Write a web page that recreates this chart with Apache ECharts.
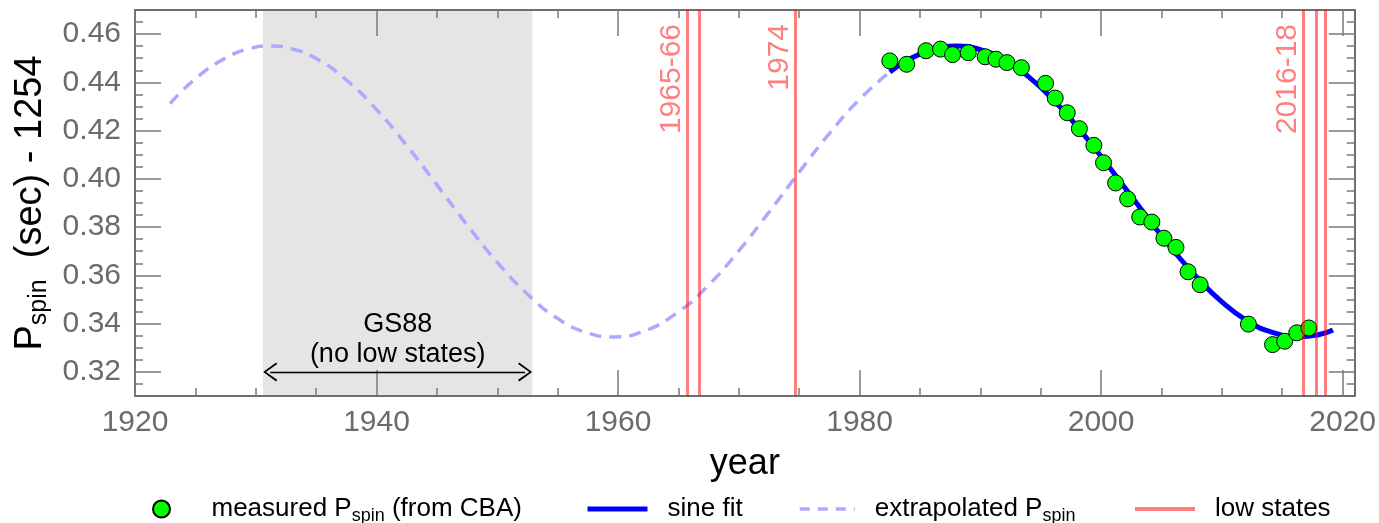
<!DOCTYPE html>
<html>
<head>
<meta charset="utf-8">
<script src="https://cdn.jsdelivr.net/npm/echarts@6/dist/echarts.min.js"></script>
<style>
html,body{margin:0;padding:0;background:#fff;}
#chart{width:1379px;height:523px;}
</style>
</head>
<body>
<div id="chart"></div>
<script>
// ---------------- data ----------------
const measuredYears = [1982.5,1983.9,1985.5,1986.7,1987.7,1989.0,1990.4,1991.3,1992.2,1993.4,1995.4,1996.2,1997.2,1998.2,1999.4,2000.2,2001.2,2002.2,2003.2,2004.2,2005.2,2006.2,2007.2,2008.2,2012.2,2014.2,2015.2,2016.2,2017.2];
const measuredP = [0.4489,0.4475,0.4531,0.4538,0.4515,0.4523,0.4506,0.4496,0.4482,0.4461,0.4396,0.4335,0.4274,0.4208,0.4139,0.4067,0.3983,0.3917,0.3842,0.3821,0.3754,0.3716,0.3615,0.3561,0.3398,0.3313,0.3327,0.3362,0.3382];

const fitYears = [1982.5,1984,1986,1988,1990,1992,1994,1996,1998,2000,2002,2004,2006,2008,2010,2012,2014,2016.4,2018,2019.2];
const fitP = [0.4443,0.4493,0.4536,0.4551,0.4536,0.4493,0.4423,0.4330,0.4218,0.4093,0.3961,0.3829,0.3702,0.3588,0.3490,0.3415,0.3367,0.3345,0.3354,0.3374];

const extrapYears = [1922.9,1925,1927.5,1929.5,1931.2,1933,1935,1937.5,1940,1942.5,1945,1947.5,1950,1952.5,1955,1957.5,1959.6,1962,1965,1967.5,1970,1972.5,1975,1977.5,1980,1982.5];
const extrapP = [0.4312,0.4415,0.4501,0.4540,0.4551,0.4539,0.4499,0.4410,0.4287,0.4138,0.3975,0.3809,0.3654,0.3522,0.3421,0.3361,0.3345,0.3366,0.3449,0.3560,0.3702,0.3862,0.4028,0.4188,0.4330,0.4443];

const lowStateYears = [1965.7,1966.7,1974.65,2016.7,2017.8,2018.6];
const lowStateLabels = ['1965-66','','1974','2016-18','',''];

const gs88Span = [1930.6,1952.9];
const gs88Label = 'GS88\n(no low states)';

const xMajorTicks = [1920,1940,1960,1980,2000,2020];
const xMinorTicks = [1925,1930,1935,1945,1950,1955,1965,1970,1975,1985,1990,1995,2005,2010,2015];
const yMajorTicks = [0.32,0.34,0.36,0.38,0.40,0.42,0.44,0.46];
const yMinorTicks = [0.315,0.325,0.33,0.335,0.345,0.35,0.355,0.365,0.37,0.375,0.385,0.39,0.395,0.405,0.41,0.415,0.425,0.43,0.435,0.445,0.45,0.455,0.465];

// ---------------- styles ----------------
const FONT = 'Liberation Sans';
const FRAME = '#6e6e6e';
const TICKC = '#7a7a7a';
const LABELC = '#6b6b6b';
const RED = 'rgba(255,0,0,0.5)';
const X_MIN = 1920, X_MAX = 2021, Y_MIN = 0.31, Y_MAX = 0.47;

const pair = (xs, ys) => xs.map((x, i) => [x, ys[i]]);

function xAx(pos, major, withLabel, showLine) {
  return {
    type: 'value', position: pos, min: X_MIN, max: X_MAX, z: 1,
    axisLine: {show: showLine, onZero: false, lineStyle: {color: FRAME, width: 2}},
    axisTick: {show: true, inside: true, customValues: major ? xMajorTicks : xMinorTicks,
               length: major ? 26 : 8, lineStyle: {color: TICKC, width: 1.5}},
    axisLabel: withLabel ? {show: true, customValues: xMajorTicks, fontFamily: FONT, fontSize: 30, color: LABELC, margin: 12,
                            formatter: v => String(v)}
                         : {show: false},
    splitLine: {show: false},
    name: withLabel ? 'year' : '',
    nameLocation: 'middle', nameGap: 50,
    nameTextStyle: {fontFamily: FONT, fontSize: 36, color: '#000'}
  };
}
function yAx(pos, major, withLabel, showLine) {
  return {
    type: 'value', position: pos, min: Y_MIN, max: Y_MAX, z: 1,
    axisLine: {show: showLine, onZero: false, lineStyle: {color: FRAME, width: 2}},
    axisTick: {show: true, inside: true, customValues: major ? yMajorTicks : yMinorTicks,
               length: major ? 26 : 8, lineStyle: {color: TICKC, width: 1.5}},
    axisLabel: withLabel ? {show: true, customValues: yMajorTicks, fontFamily: FONT, fontSize: 30, color: LABELC, margin: 14,
                            formatter: v => v.toFixed(2)}
                         : {show: false},
    splitLine: {show: false},
    name: withLabel ? '{b|P}{sub|spin}{b|  (sec) - 1254}' : '',
    nameLocation: 'middle', nameGap: 82,
    nameTextStyle: {fontFamily: FONT, fontSize: 38, color: '#000',
      rich: {b: {fontFamily: FONT, fontSize: 38, color: '#000'},
             sub: {fontFamily: FONT, fontSize: 25, color: '#000', padding: [18, 0, 0, 0]}}}
  };
}

const chevron = 'path://M5,0 L10,8 L9.2,8.7 L5,1.7 L0.8,8.7 L0,8 Z';

const legendRich = {
  sp: {width: 15},
  t: {fontFamily: FONT, fontSize: 26, color: '#000'},
  sub: {fontFamily: FONT, fontSize: 18, color: '#000', padding: [14, 0, 0, 0]}
};
const legendNames = {
  measured: '{sp| }{t|measured P}{sub|spin}{t| (from CBA)}',
  sine: '{sp| }{t|sine fit}',
  extrap: '{sp| }{t|extrapolated P}{sub|spin}',
  low: '{sp| }{t|low states}'
};
function legendAt(name, left, iw, ih, lineStyle) {
  const l = {
    data: [name], left: left, top: 496, itemWidth: iw, itemHeight: ih, padding: 0,
    formatter: n => legendNames[n],
    textStyle: {rich: legendRich, fontFamily: FONT, fontSize: 26, color: '#000'},
    selectedMode: false
  };
  if (lineStyle) {
    l.lineStyle = lineStyle;
    l.itemStyle = {opacity: 0};
  } else {
    l.itemStyle = {opacity: 1};
  }
  return l;
}

const option = {
  animation: false,
  backgroundColor: '#fff',
  grid: {left: 135, right: 22, top: 10, bottom: 127, containLabel: false},
  xAxis: [xAx('bottom', false, false, true), xAx('bottom', true, true, false),
          xAx('top', false, false, true), xAx('top', true, false, false)],
  yAxis: [yAx('left', false, false, true), yAx('left', true, true, false),
          yAx('right', false, false, true), yAx('right', true, false, false)],
  legend: [legendAt('measured', 152, 60, 17, null),
           legendAt('sine', 585, 60, 14, {color: '#0000ff', width: 5, type: 'solid'}),
           legendAt('extrap', 798, 55, 14, {color: '#aaaaff', width: 3.5, type: [10, 8]}),
           legendAt('low', 1133, 60, 14, {color: RED, width: 4, type: 'solid'})],
  series: [
    {
      name: 'shade', type: 'line', data: [], z: 0, silent: true,
      markArea: {silent: true, itemStyle: {color: '#e5e5e5'},
        data: [[{xAxis: gs88Span[0]}, {xAxis: gs88Span[1]}]]},
      markLine: {silent: true, symbol: [chevron, chevron], symbolSize: [19, 14],
        lineStyle: {color: '#000', width: 1.3, type: 'solid'},
        label: {show: true, position: 'middle', formatter: gs88Label, fontFamily: FONT, fontSize: 27,
                color: '#000', lineHeight: 30, distance: 2},
        data: [[{coord: [gs88Span[0] + 0.6, 0.32]}, {coord: [gs88Span[1] - 0.6, 0.32]}]]}
    },
    {
      name: 'extrap', type: 'line', data: pair(extrapYears, extrapP), smooth: true,
      symbol: 'none', z: 2, color: '#aaaaff',
      lineStyle: {color: '#aaaaff', width: 3.5, type: [12, 8]}
    },
    {
      name: 'sine', type: 'line', data: pair(fitYears, fitP), smooth: true,
      symbol: 'none', z: 3, color: '#0000ff',
      lineStyle: {color: '#0000ff', width: 5}
    },
    {
      name: 'measured', type: 'scatter', data: pair(measuredYears, measuredP),
      symbol: 'circle', symbolSize: 16, z: 4,
      itemStyle: {color: '#00ff00', borderColor: '#000', borderWidth: 1, opacity: 1}
    },
    {
      name: 'low', type: 'line', data: [], z: 5, color: RED, symbol: 'none',
      lineStyle: {color: RED, width: 4},
      markLine: {silent: true, symbol: ['none', 'none'],
        lineStyle: {color: RED, width: 3, type: 'solid'},
        data: lowStateYears.map((x, i) => ({
          xAxis: x,
          label: lowStateLabels[i] ? {show: true, formatter: lowStateLabels[i], position: 'insideEndTop',
                   fontFamily: FONT, fontSize: 30, color: RED, distance: 0, padding: [0, 14, 0, 0]} : {show: false}
        }))}
    }
  ]
};

const chart = echarts.init(document.getElementById('chart'), null, {renderer: 'canvas'});
chart.setOption(option);
</script>
</body>
</html>
